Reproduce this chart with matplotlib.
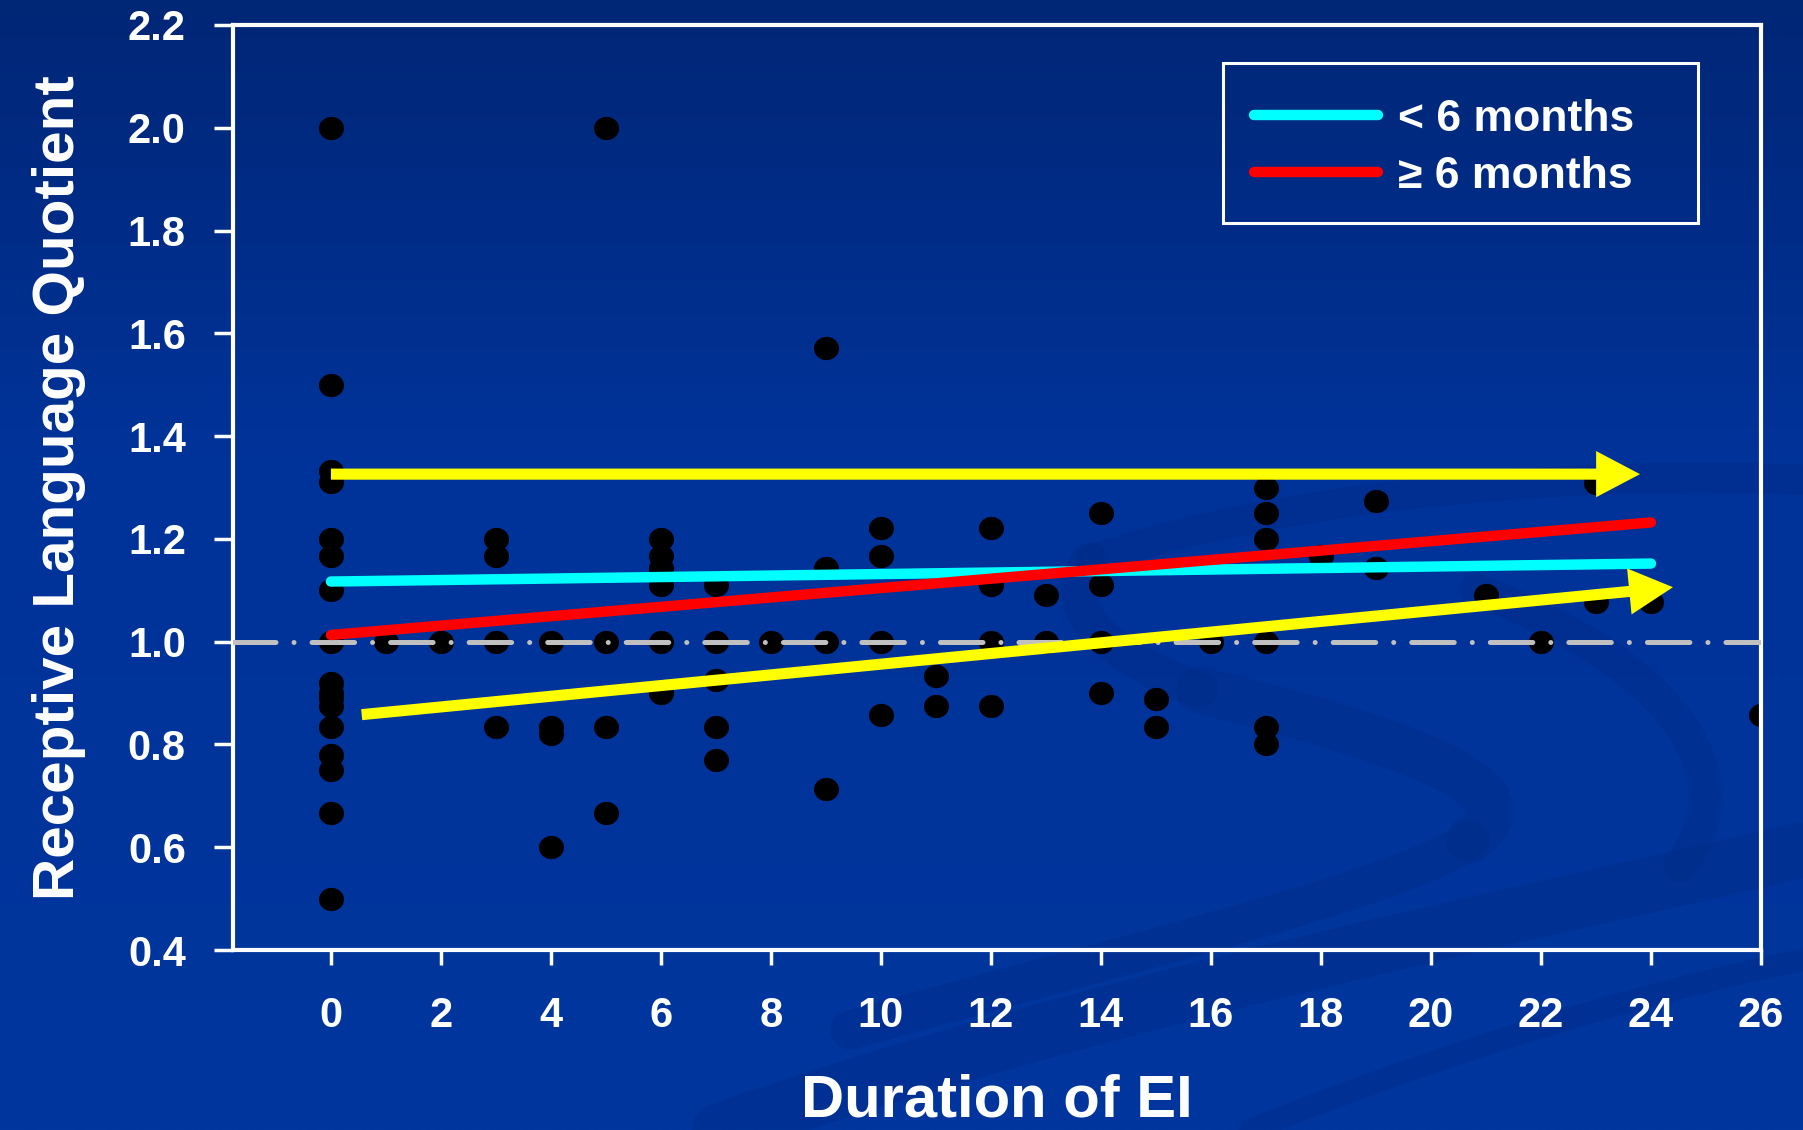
import numpy as np
import matplotlib
matplotlib.use('Agg')
import matplotlib.pyplot as plt
from matplotlib.path import Path
from matplotlib.patches import PathPatch, Rectangle
from matplotlib.markers import MarkerStyle
from matplotlib.lines import Line2D

plt.rcParams['font.family'] = ['Liberation Sans', 'DejaVu Sans']
plt.rcParams['font.weight'] = 'bold'

# receptive language quotient per child, grouped by months of EI
months = [0, 1, 2, 3, 4, 5, 6, 7, 8, 9, 10, 11, 12, 13, 14, 15, 16, 17, 18, 19, 21, 22, 23, 24, 26]
quotients = [
    [2.0, 1.5, 1.333, 1.31, 1.2, 1.167, 1.1, 1.0, 0.92, 0.9, 0.89, 0.875, 0.833, 0.78, 0.75, 0.667, 0.5],
    [1.0],
    [1.0],
    [1.2, 1.167, 1.0, 0.833],
    [1.0, 0.833, 0.82, 0.6],
    [2.0, 1.0, 0.833, 0.667],
    [1.2, 1.167, 1.143, 1.111, 1.0, 0.9],
    [1.111, 1.0, 0.926, 0.833, 0.77],
    [1.0],
    [1.571, 1.143, 1.0, 0.714],
    [1.222, 1.167, 1.0, 0.857],
    [0.933, 0.875],
    [1.222, 1.111, 1.0, 0.875],
    [1.091, 1.0],
    [1.25, 1.111, 1.0, 0.9],
    [0.889, 0.833],
    [1.0],
    [1.3, 1.25, 1.2, 1.0, 0.833, 0.8],
    [1.167],
    [1.273, 1.143],
    [1.091],
    [1.0],
    [1.308, 1.077],
    [1.077],
    [0.857],
]

# fitted lines for the two age-at-entry groups
fit_x = [0, 24]
fit_under6 = [1.117, 1.152]
fit_over6 = [1.013, 1.232]

# highlight arrows (start, end)
arrow_flat = [(0.0, 1.326), (23.8, 1.326)]
arrow_rise = [(0.56, 0.858), (24.4, 1.106)]

xs = [m for m, qs in zip(months, quotients) for _ in qs]
ys = [q for qs in quotients for q in qs]

W, H = 1803, 1130
fig = plt.figure(figsize=(W / 100, H / 100), dpi=100)

# slide background: vertical gradient plus faint ribbons
bg = fig.add_axes([0, 0, 1, 1])
bg.set_xlim(0, W)
bg.set_ylim(H, 0)
bg.axis('off')
t = np.linspace(0, 1, 400)[:, None]
top = np.array([0, 38, 118]) / 255
mid = np.array([0, 51, 153]) / 255
bot = np.array([0, 54, 158]) / 255
k = np.clip(t / 0.4, 0, 1)
col = np.where(t < 0.4, top + (mid - top) * k, mid + (bot - mid) * np.clip((t - 0.4) / 0.6, 0, 1))
grad = np.repeat(col[:, None, :], 2, axis=1).reshape(400, 2, 3)
bg.imshow(grad, extent=(0, W, H, 0), aspect='auto', zorder=0)

dark = '#002c88'
C4 = Path.CURVE4
ribbons = [
    ([(1090, 560), (1300, 490), (1600, 470), (1803, 480)], 22),
    ([(1090, 560), (1060, 600), (1090, 650), (1200, 690)], 26),
    ([(1200, 690), (1420, 745), (1540, 790), (1470, 840)], 34),
    ([(1470, 840), (1400, 890), (1100, 960), (850, 1030)], 28),
    ([(1476, 590), (1640, 650), (1760, 760), (1680, 866)], 24),
    ([(720, 1130), (1100, 1000), (1500, 920), (1803, 850)], 40),
    ([(1250, 1130), (1450, 1050), (1650, 990), (1803, 960)], 16),
]
for pts, lw in ribbons:
    p = Path(pts, [Path.MOVETO, C4, C4, C4])
    bg.add_patch(PathPatch(p, fill=False, edgecolor=dark, lw=lw, alpha=0.45,
                           capstyle='round', zorder=1))

ax = fig.add_axes([233 / W, 1 - 950 / H, (1761 - 233) / W, (950 - 25) / H])
ax.patch.set_alpha(0)

theta = np.linspace(0, 2 * np.pi, 64)
blob = MarkerStyle(Path(np.column_stack([1.08 * np.cos(theta), np.sin(theta)]), closed=True))
ax.plot(xs, ys, ls='none', marker=blob, ms=17, color='black', zorder=2)

ax.axhline(1.0, color='#c0c0c0', lw=3.6, ls=(0, (8.5, 3.6, 0.01, 3.6)),
           dash_capstyle='round', zorder=3)

ax.plot(fit_x, fit_under6, color='#00ffff', lw=7.5, solid_capstyle='round', zorder=4)
ax.plot(fit_x, fit_over6, color='#ff0000', lw=7.5, solid_capstyle='round', zorder=4)

for start, end in (arrow_flat, arrow_rise):
    ax.annotate('', xy=end, xytext=start, zorder=5,
                arrowprops=dict(arrowstyle='-|>,head_length=1.9,head_width=1.0',
                                mutation_scale=10, color='#ffff00', lw=8,
                                shrinkA=0, shrinkB=0, capstyle='butt',
                                joinstyle='miter'))

ax.set_xlim(-1.78, 26)
ax.set_ylim(0.4, 2.2)
ax.set_xticks(range(0, 27, 2))
yt = np.round(np.arange(0.4, 2.21, 0.2), 1)
ax.set_yticks(yt)
ax.set_yticklabels([f'{v:.1f}' for v in yt])

for s in ax.spines.values():
    s.set_color('white')
    s.set_linewidth(3)
ax.tick_params(axis='both', colors='white', width=2.5, labelsize=30, direction='out')
ax.tick_params(axis='y', length=14, pad=20)
ax.tick_params(axis='x', length=11, pad=22)

ax.set_xlabel('Duration of EI', fontsize=43, fontweight='bold', color='white', labelpad=27)
ax.set_ylabel('Receptive Language Quotient', fontsize=42, fontweight='bold',
              color='white', labelpad=30)

# legend entries without their own frame; the box is drawn separately
handles = [Line2D([], [], color='#00ffff', lw=7.5, solid_capstyle='round'),
           Line2D([], [], color='#ff0000', lw=7.5, solid_capstyle='round')]
leg = ax.legend(handles, ['< 6 months', '\u2265 6 months'], loc='upper left',
                bbox_to_anchor=(1218 / W, 1 - 63 / H), bbox_transform=fig.transFigure,
                borderaxespad=0, fontsize=32, frameon=False, handlelength=2.8,
                handletextpad=0.45, labelspacing=0.36, borderpad=0.8)
for txt in leg.get_texts():
    txt.set_color('white')
fig.patches.append(Rectangle((1223 / W, 1 - 223 / H), 475 / W, 160 / H,
                             transform=fig.transFigure, fill=False,
                             edgecolor='white', lw=2.2, zorder=6))

fig.savefig('out.png', dpi=100)
